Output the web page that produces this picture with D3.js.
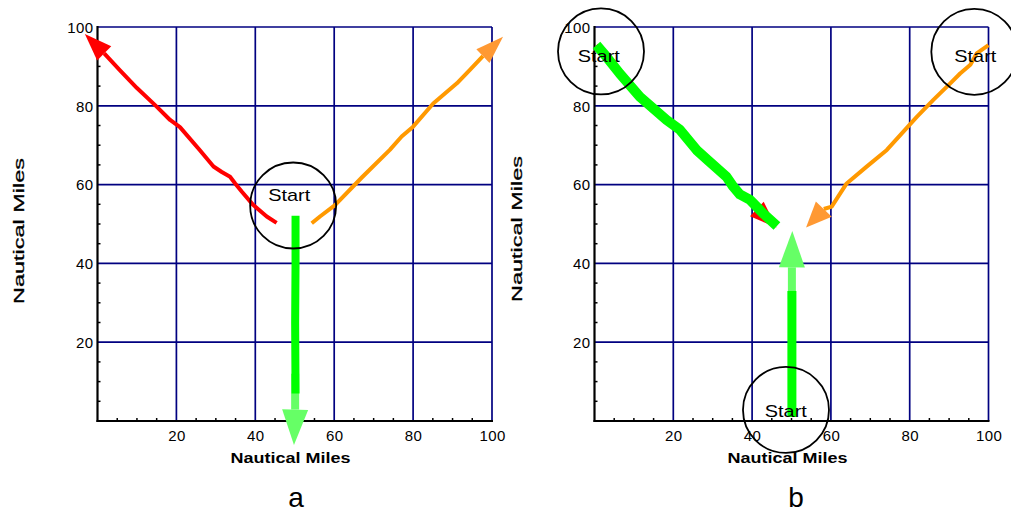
<!DOCTYPE html>
<html><head><meta charset="utf-8">
<script src="https://cdn.jsdelivr.net/npm/d3@7"></script>
<style>
body{margin:0;background:#fff}
svg{display:block}
text{font-family:"Liberation Sans",Arial,sans-serif;fill:#000}
</style>
</head><body>
<svg id="chart" width="1011" height="514"></svg>
<script>
// ---------- data ----------
const xTickValues = [20, 40, 60, 80, 100];
const yTickValues = [20, 40, 60, 80, 100];
const gridValues  = [20, 40, 60, 80, 100];
const minorTickValues = [5,10,15,25,30,35,45,50,55,65,70,75,85,90,95];
const axisTitle = "Nautical Miles";
const startLabel = "Start";
const panelLabels = ["a", "b"];

// panel a trajectories (nautical miles)
const redA = [[45.4,50.3],[42.9,51.9],[39.5,54.8],[36.6,58.2],[34.9,60.3],[33.6,62],[31.5,63.2],[29.4,64.6],[25.9,68.8],[20.9,74.6],[18.4,76.4],[15,79.8],[10,84.5],[5.7,89],[1.7,93.3]];
const redATip = [-3.2, 98.2];
const orangeA = [[54.3,50.2],[56.4,51.9],[60.2,54.8],[67,61.8],[74.1,68.8],[77.1,72.2],[80,74.7],[85.1,80.6],[91.1,85.7],[94.4,89.1],[97.7,92.6]];
const orangeATip = [102.8, 97.5];
const greenA = [[50.2,52.1],[50.2,40],[50.1,25],[50.2,7]];
const greenAShaft = [[50.1,12],[50.1,2.9]];
const greenATip = [49.8, -6.1];
const circlesA = [[49.6,54.7]];
const labelsA = [[48.6,55.9]];

// panel b trajectories (nautical miles)
const greenB = [[0.5,95.4],[3,92.5],[6.4,88.2],[11.5,82.3],[18.3,76.4],[21.7,73.9],[25.9,68.8],[29,66],[33.5,62],[35.2,59.5],[36.9,57.5],[39.5,56.1],[43,52.5],[46.3,49.5]];
const redB = [[0.5,95.4],[3,92.5],[6.4,88.2],[11.5,82.3],[18.3,76.4],[21.7,73.9],[25.9,68.8],[29,66],[33.5,62],[35.2,59.5],[36.9,57.5],[39.5,56.1],[41.2,53.8]];
const redBTip = [46.2, 49.1];
const orangeB = [[100,95.4],[97,93.3],[95.4,90.4],[92.8,88.2],[90.3,85.7],[86,81.5],[81.8,77.2],[78,73],[74.2,68.8],[69,64.5],[64,60.3],[60.2,54.4],[58.2,53.8]];
const orangeBTip = [53.7, 49.1];
const greenUpB = [[50.1,1],[50.1,15],[50.1,33]];
const greenBShaft = [[50.1,31],[50.1,39]];
const greenBTip = [50.2, 48.2];
const circlesB = [[1.65,93.8],[96.4,93.7],[48.6,2.8]];
const labelsB = [[1.1,91.1],[96.65,91.1],[48.55,1.0]];

// ---------- layout ----------
const panels = [
  {left:97.5, right:492, top:27, bottom:421, yTitleX:18.5, yTitleY:231, xTitleX:290.5, labelX:296,
   lines:[
     {pts:redA, tip:redATip, color:"#ff0000", head:"#ff0000", w:4, hw:20},
     {pts:orangeA, tip:orangeATip, color:"#ff9900", head:"#ff9933", w:4, hw:19},
     {pts:greenAShaft, tip:greenATip, color:"#66ff66", head:"#66ff66", w:8, hw:26},
     {pts:greenA, color:"#00ff00", w:8}
   ], circles:circlesA, labels:labelsA},
  {left:594.5, right:988.5, top:27, bottom:421, yTitleX:516, yTitleY:229, xTitleX:787.5, labelX:796,
   lines:[
     {pts:redB, tip:redBTip, color:"#ff0000", head:"#ff0000", w:4, hw:20},
     {pts:greenB, color:"#00ff00", w:10},
     {pts:orangeB, tip:orangeBTip, color:"#ff9900", head:"#ff9933", w:4, hw:22},
     {pts:greenBShaft, tip:greenBTip, color:"#66ff66", head:"#66ff66", w:8, hw:26},
     {pts:greenUpB, color:"#00ff00", w:9}
   ], circles:circlesB, labels:labelsB}
];

const svg = d3.select("#chart");
svg.append("rect").attr("width",1011).attr("height",514).attr("fill","#fff");

panels.forEach((p, i) => {
  const x = d3.scaleLinear().domain([0,100]).range([p.left, p.right]);
  const y = d3.scaleLinear().domain([0,100]).range([p.bottom, p.top]);
  const g = svg.append("g").attr("class","panel");

  // grid
  g.selectAll("line.vg").data(gridValues).join("line").attr("class","vg")
    .attr("x1", d=>x(d)).attr("x2", d=>x(d)).attr("y1", y(0)).attr("y2", y(100))
    .attr("stroke","#000080").attr("stroke-width",1.7);
  g.selectAll("line.hg").data(gridValues).join("line").attr("class","hg")
    .attr("y1", d=>y(d)).attr("y2", d=>y(d)).attr("x1", x(0)).attr("x2", x(100))
    .attr("stroke","#000080").attr("stroke-width",1.7);

  // axes
  const xAxis = d3.axisBottom(x).tickValues(xTickValues).tickSize(0).tickPadding(9);
  const yAxis = d3.axisLeft(y).tickValues(yTickValues).tickSize(0).tickPadding(4);
  const gx = g.append("g").attr("class","xaxis").attr("transform",`translate(0,${y(0)})`).call(xAxis);
  const gy = g.append("g").attr("class","yaxis").attr("transform",`translate(${x(0)},0)`).call(yAxis);
  [gx, gy].forEach(a => {
    a.select(".domain").remove();
    a.selectAll("text").attr("font-size",15).attr("font-family","Liberation Sans, Arial, sans-serif")
      .attr("fill","#000").attr("letter-spacing",0.4);
  });
  gy.selectAll("text").attr("dy","0.35em");

  // minor ticks (inward)
  g.selectAll("line.mx").data(minorTickValues).join("line").attr("class","mx")
    .attr("x1", d=>x(d)).attr("x2", d=>x(d)).attr("y1", y(0)).attr("y2", y(0)-3)
    .attr("stroke","#000").attr("stroke-width",1.5);
  g.selectAll("line.my").data(minorTickValues).join("line").attr("class","my")
    .attr("y1", d=>y(d)).attr("y2", d=>y(d)).attr("x1", x(0)).attr("x2", x(0)+3)
    .attr("stroke","#000").attr("stroke-width",1.5);

  // axis lines
  g.append("line").attr("x1",x(0)).attr("x2",x(0)).attr("y1",y(0)+1).attr("y2",y(100)-1)
    .attr("stroke","#000").attr("stroke-width",2.2);
  g.append("line").attr("x1",x(0)-1).attr("x2",x(100)+1).attr("y1",y(0)).attr("y2",y(0))
    .attr("stroke","#000").attr("stroke-width",2.2);

  // titles
  g.append("text").attr("x",p.xTitleX).attr("y",462.5).attr("text-anchor","middle")
    .attr("font-size",15).attr("font-weight","bold")
    .attr("textLength",120).attr("lengthAdjust","spacingAndGlyphs").text(axisTitle);
  g.append("text").attr("transform",`translate(${p.yTitleX + 5.5},${p.yTitleY}) rotate(-90)`)
    .attr("text-anchor","middle").attr("font-size",15)
    .attr("stroke","#000").attr("stroke-width",0.3)
    .attr("textLength",146).attr("lengthAdjust","spacingAndGlyphs").text(axisTitle);
  g.append("text").attr("x",p.labelX).attr("y",507).attr("text-anchor","middle")
    .attr("font-size",28).text(panelLabels[i]);

  // trajectories
  const line = d3.line().x(d=>x(d[0])).y(d=>y(d[1]));
  p.lines.forEach(l => {
    g.append("path").attr("d", line(l.pts)).attr("fill","none")
      .attr("stroke", l.color).attr("stroke-width", l.w)
      .attr("stroke-linejoin","round").attr("stroke-linecap","butt");
    if (l.tip) {
      const b = l.pts[l.pts.length-1];
      const bx = x(b[0]), by = y(b[1]), tx = x(l.tip[0]), ty = y(l.tip[1]);
      const dx = tx-bx, dy = ty-by, len = Math.hypot(dx,dy);
      const px = -dy/len*l.hw/2, py = dx/len*l.hw/2;
      g.append("polygon")
        .attr("points", [[tx,ty],[bx+px,by+py],[bx-px,by-py]].map(q=>q.join(",")).join(" "))
        .attr("fill", l.head);
    }
  });

  // start circles
  g.selectAll("circle.sc").data(p.circles).join("circle").attr("class","sc")
    .attr("cx", d=>x(d[0])).attr("cy", d=>y(d[1])).attr("r", 43)
    .attr("fill","none").attr("stroke","#000").attr("stroke-width",1.8);
  g.selectAll("text.st").data(p.labels).join("text").attr("class","st")
    .attr("x", d=>x(d[0])).attr("y", d=>y(d[1])).attr("text-anchor","middle")
    .attr("font-size",17).attr("textLength",42).attr("lengthAdjust","spacingAndGlyphs")
    .text(startLabel);
});
</script>
</body></html>
